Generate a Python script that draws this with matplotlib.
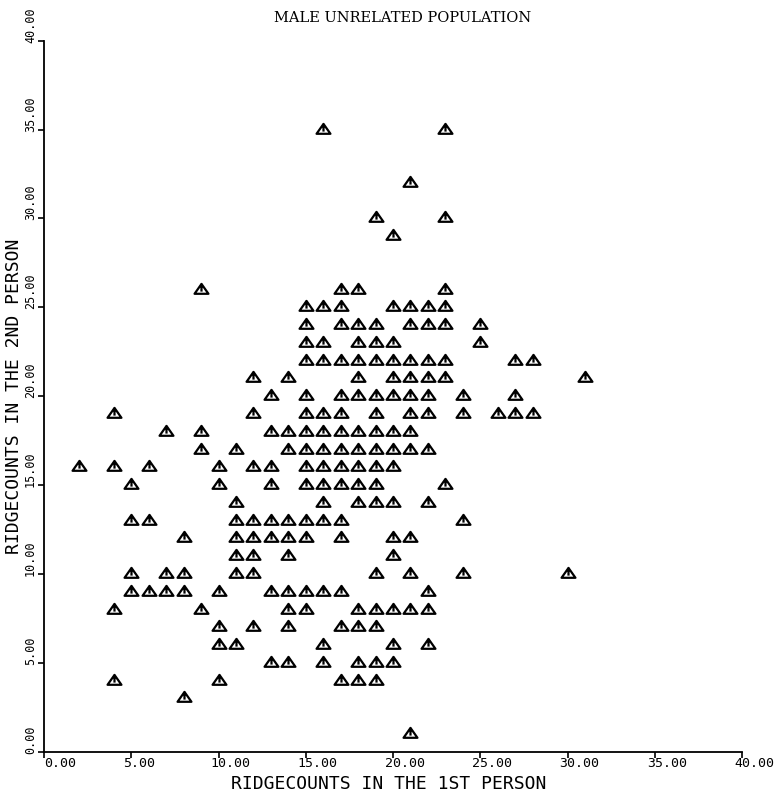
import matplotlib
matplotlib.use("Agg")
import matplotlib.pyplot as plt
from matplotlib.path import Path
import matplotlib.transforms as mtransforms

# ---- data: ridgecounts of 2nd person (levels) and 1st person values at each level ----
y_levels = [35, 32, 30, 29, 26, 25, 24, 23, 22, 21, 20, 19, 18, 17, 16,
            15, 14, 13, 12, 11, 10, 9, 8, 7, 6, 5, 4, 3, 1]
x_at_level = [
    [16, 23],
    [21],
    [19, 23],
    [20],
    [9, 17, 18, 23],
    [15, 16, 17, 20, 21, 22, 23],
    [15, 17, 18, 19, 21, 22, 23, 25],
    [15, 16, 18, 19, 20, 25],
    [15, 16, 17, 18, 19, 20, 21, 22, 23, 27, 28],
    [12, 14, 18, 20, 21, 22, 23, 31],
    [13, 15, 17, 18, 19, 20, 21, 22, 24, 27],
    [4, 12, 15, 16, 17, 19, 21, 22, 24, 26, 27, 28],
    [7, 9, 13, 14, 15, 16, 17, 18, 19, 20, 21],
    [9, 11, 14, 15, 16, 17, 18, 19, 20, 21, 22],
    [2, 4, 6, 10, 12, 13, 15, 16, 17, 18, 19, 20],
    [5, 10, 13, 15, 16, 17, 18, 19, 23],
    [11, 16, 18, 19, 20, 22],
    [5, 6, 11, 12, 13, 14, 15, 16, 17, 24],
    [8, 11, 12, 13, 14, 15, 17, 20, 21],
    [11, 12, 14, 20],
    [5, 7, 8, 11, 12, 19, 21, 24, 30],
    [5, 6, 7, 8, 10, 13, 14, 15, 16, 17, 22],
    [4, 9, 14, 15, 18, 19, 20, 21, 22],
    [10, 12, 14, 17, 18, 19],
    [10, 11, 16, 20, 22],
    [13, 14, 16, 18, 19, 20],
    [4, 10, 17, 18, 19],
    [8],
    [21],
]
tick_values = [0, 5, 10, 15, 20, 25, 30, 35, 40]
tick_labels = ["%.2f" % v for v in tick_values]
title = "MALE UNRELATED POPULATION"
xlabel = "RIDGECOUNTS IN THE 1ST PERSON"
ylabel = "RIDGECOUNTS IN THE 2ND PERSON"

xs, ys = [], []
for yv, row in zip(y_levels, x_at_level):
    for xv in row:
        xs.append(xv)
        ys.append(yv)

# ---- marker: plotter triangle with a stroke from the apex ----
verts = [(-0.5, -0.237), (0.5, -0.237), (0.0, 0.473), (-0.5, -0.237),
         (0.0, 0.473), (0.0, -0.08)]
codes = [Path.MOVETO, Path.LINETO, Path.LINETO, Path.CLOSEPOLY,
         Path.MOVETO, Path.LINETO]
tri = Path(verts, codes)

W, H = 778, 794
fig = plt.figure(figsize=(W / 100, H / 100), dpi=100)
ax = fig.add_axes([44 / W, (H - 751.7) / H, 698 / W, 711 / H])

ax.plot(xs, ys, linestyle="none", marker=tri, markersize=10,
        markerfacecolor="none", markeredgecolor="black",
        markeredgewidth=1.6, clip_on=False)

ax.set_xlim(0, 40)
ax.set_ylim(0, 40)
for s in ("top", "right"):
    ax.spines[s].set_visible(False)
for s in ("left", "bottom"):
    ax.spines[s].set_linewidth(1.3)
    ax.spines[s].set_color("black")

mono = "DejaVu Sans Mono"
ax.set_xticks(tick_values)
ax.set_yticks(tick_values)
ax.set_xticklabels(tick_labels, family=mono, fontsize=9.5, ha="left")
ax.set_yticklabels(tick_labels, family=mono, fontsize=8.5, rotation=90,
                   va="bottom")
ax.tick_params(direction="out", length=4, width=1.2, colors="black")
ax.tick_params(axis="x", pad=0)
ax.tick_params(axis="y", pad=1)

shift = mtransforms.ScaledTranslation(-8 / 100, 0, fig.dpi_scale_trans)
for i, lab in enumerate(ax.get_xticklabels()):
    if i > 0:
        lab.set_transform(lab.get_transform() + shift)
down = mtransforms.ScaledTranslation(0, -2 / 100, fig.dpi_scale_trans)
for lab in ax.get_yticklabels():
    lab.set_transform(lab.get_transform() + down)

fig.text(403 / W, 1 - 17.5 / H, title, family="DejaVu Serif",
         fontsize=10.5, ha="center", va="center")
fig.text(389 / W, 1 - 789 / H, xlabel, family=mono, fontsize=13,
         ha="center", va="baseline")
fig.text(14.5 / W, 1 - 396 / H, ylabel, family=mono, fontsize=13,
         rotation=90, ha="center", va="center")

fig.savefig("out.png", dpi=100, facecolor="white")
